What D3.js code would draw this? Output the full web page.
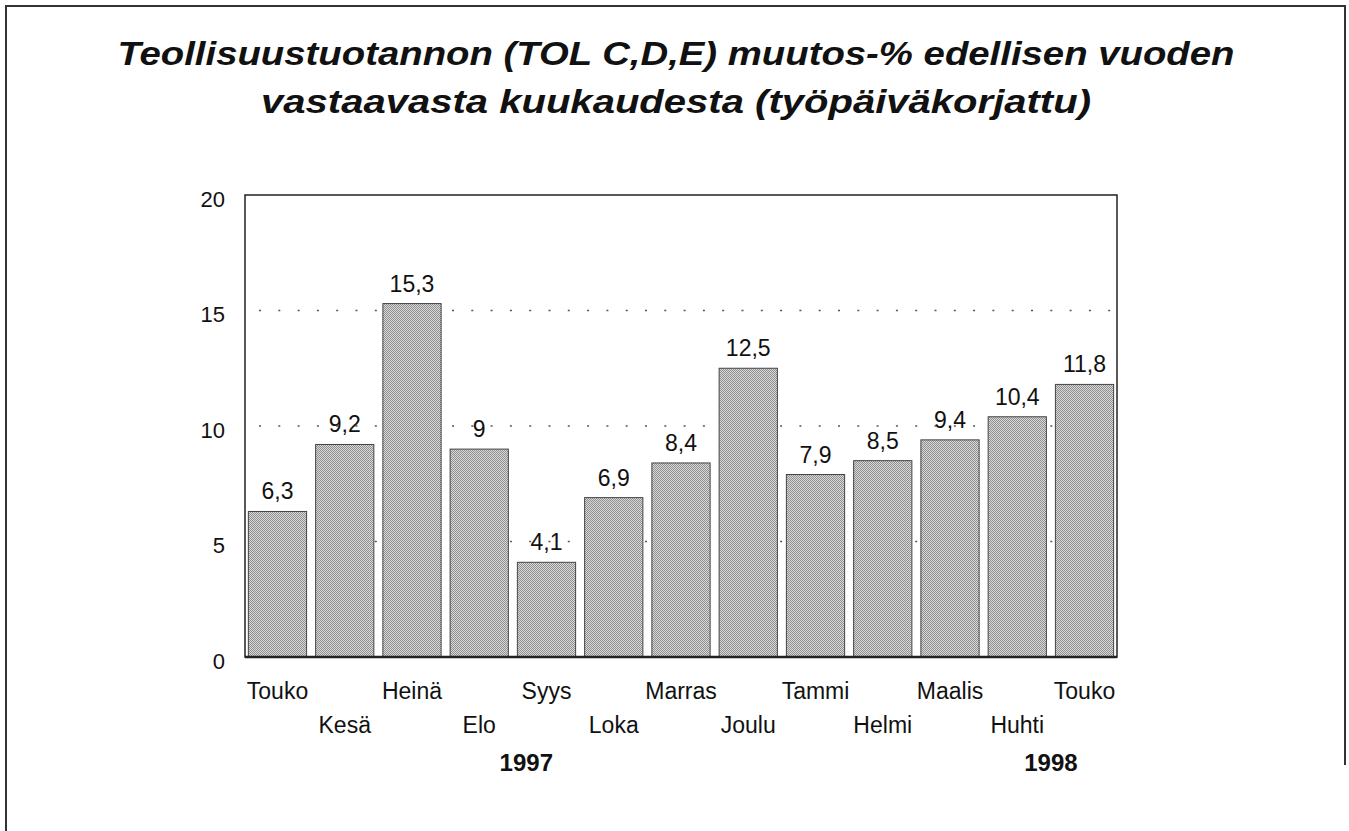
<!DOCTYPE html>
<html>
<head lang="fi">
    <meta charset="UTF-8">
    <title>Teollisuustuotannon muutos-%</title>
    <script src="https://cdn.jsdelivr.net/npm/d3@7/dist/d3.min.js" charset="utf-8"></script>
    <style>
        body { margin: 0; background: #fff; }
        text { font-family: "Liberation Sans", Arial, sans-serif; fill: #111; }
    </style>
</head>
<body>
    <script>
        var w = 1349;
        var h = 831;

        // data
        var months = ["Touko", "Kesä", "Heinä", "Elo", "Syys", "Loka", "Marras",
                      "Joulu", "Tammi", "Helmi", "Maalis", "Huhti", "Touko "];
        var values = [6.3, 9.2, 15.3, 9, 4.1, 6.9, 8.4, 12.5, 7.9, 8.5, 9.4, 10.4, 11.8];
        var yTicks = [0, 5, 10, 15, 20];
        var gridTicks = [5, 10, 15];
        var years = ["1997", "1998"];
        var yearPos = [3.7, 11.5];   // position in bands
        var titleLines = ["Teollisuustuotannon (TOL C,D,E) muutos-% edellisen vuoden",
                          "vastaavasta kuukaudesta (työpäiväkorjattu)"];

        var plotLeft = 245, plotRight = 1117, plotTop = 195, plotBottom = 657;

        var svg = d3.select("body")
                .append("svg")
                .attr("width", w)
                .attr("height", h);

        // stippled bar fill
        var pat = svg.append("defs").append("pattern")
                .attr("id", "stipple")
                .attr("width", 2).attr("height", 2)
                .attr("patternUnits", "userSpaceOnUse");
        pat.append("rect").attr("width", 2).attr("height", 2).attr("fill", "#d8d8d8");
        pat.append("rect").attr("width", 1).attr("height", 1).attr("fill", "#909090");
        pat.append("rect").attr("x", 1).attr("y", 1).attr("width", 1).attr("height", 1).attr("fill", "#909090");

        // page frame
        svg.append("path")
                .attr("d", "M6,831 V6 H1345 V765")
                .attr("fill", "none")
                .attr("stroke", "#333")
                .attr("stroke-width", 2);

        // title
        svg.selectAll("text.title")
                .data(titleLines)
                .enter()
                .append("text")
                .attr("class", "title")
                .text(function (d) { return d; })
                .attr("x", 676)
                .attr("y", function (d, i) { return 65 + i * 48; })
                .attr("text-anchor", "middle")
                .attr("font-size", 34)
                .attr("font-weight", "bold")
                .attr("font-style", "italic")
                .attr("textLength", function (d, i) { return i === 0 ? 1117 : 830; })
                .attr("lengthAdjust", "spacingAndGlyphs");

        var x = d3.scaleBand()
                .domain(months)
                .range([plotLeft, plotRight])
                .paddingInner(0.134)
                .paddingOuter(0.05);

        var y = d3.scaleLinear()
                .domain([0, 20])
                .range([plotBottom, plotTop]);

        // dotted grid
        svg.selectAll("line.grid")
                .data(gridTicks)
                .enter()
                .append("line")
                .attr("class", "grid")
                .attr("x1", plotLeft + 14)
                .attr("x2", plotRight)
                .attr("y1", function (d) { return y(d); })
                .attr("y2", function (d) { return y(d); })
                .attr("stroke", "#555")
                .attr("stroke-width", 1.5)
                .attr("stroke-dasharray", "2,17.3");

        // bars
        svg.selectAll("rect.bar")
                .data(values)
                .enter()
                .append("rect")
                .attr("class", "bar")
                .attr("x", function (d, i) { return x(months[i]); })
                .attr("y", function (d) { return y(d); })
                .attr("width", x.bandwidth())
                .attr("height", function (d) { return y(0) - y(d); })
                .attr("fill", "url(#stipple)")
                .attr("stroke", "#444")
                .attr("stroke-width", 1);

        // value labels
        svg.selectAll("text.val")
                .data(values)
                .enter()
                .append("text")
                .attr("class", "val")
                .text(function (d) { return String(d).replace(".", ","); })
                .attr("x", function (d, i) { return x(months[i]) + x.bandwidth() / 2; })
                .attr("y", function (d) { return y(d) - 12; })
                .attr("text-anchor", "middle")
                .attr("font-size", 23);

        // y axis labels
        var yAxis = d3.axisLeft(y)
                .tickValues(yTicks)
                .tickSize(0)
                .tickPadding(20)
                .tickFormat(d3.format("d"));
        var ya = svg.append("g")
                .attr("transform", "translate(" + plotLeft + ",0)")
                .call(yAxis);
        ya.select(".domain").remove();
        ya.selectAll("text")
                .attr("font-size", 22)
                .attr("font-family", "Liberation Sans, Arial, sans-serif")
                .attr("fill", "#111")
                .attr("dy", "0.5em");

        // x axis labels, staggered on two rows
        var xAxis = d3.axisBottom(x).tickSize(0).tickPadding(0);
        var xa = svg.append("g")
                .attr("transform", "translate(0," + plotBottom + ")")
                .call(xAxis);
        xa.select(".domain").remove();
        xa.selectAll("text")
                .attr("font-size", 23)
                .attr("font-family", "Liberation Sans, Arial, sans-serif")
                .attr("fill", "#111")
                .attr("dy", null)
                .attr("y", function (d, i) { return i % 2 === 0 ? 42 : 76; });

        // year labels
        svg.selectAll("text.year")
                .data(years)
                .enter()
                .append("text")
                .attr("class", "year")
                .text(function (d) { return d; })
                .attr("x", function (d, i) { return plotLeft + x.step() * (x.paddingOuter() + yearPos[i]) + x.bandwidth() / 2; })
                .attr("y", 771)
                .attr("text-anchor", "middle")
                .attr("font-size", 24)
                .attr("font-weight", "bold");

        // plot frame
        svg.append("rect")
                .attr("x", plotLeft)
                .attr("y", plotTop)
                .attr("width", plotRight - plotLeft)
                .attr("height", plotBottom - plotTop)
                .attr("fill", "none")
                .attr("stroke", "#222")
                .attr("stroke-width", 1.5);
        svg.append("line")
                .attr("x1", plotLeft).attr("x2", plotRight)
                .attr("y1", plotBottom).attr("y2", plotBottom)
                .attr("stroke", "#222")
                .attr("stroke-width", 2.5);
    </script>
</body>
</html>
